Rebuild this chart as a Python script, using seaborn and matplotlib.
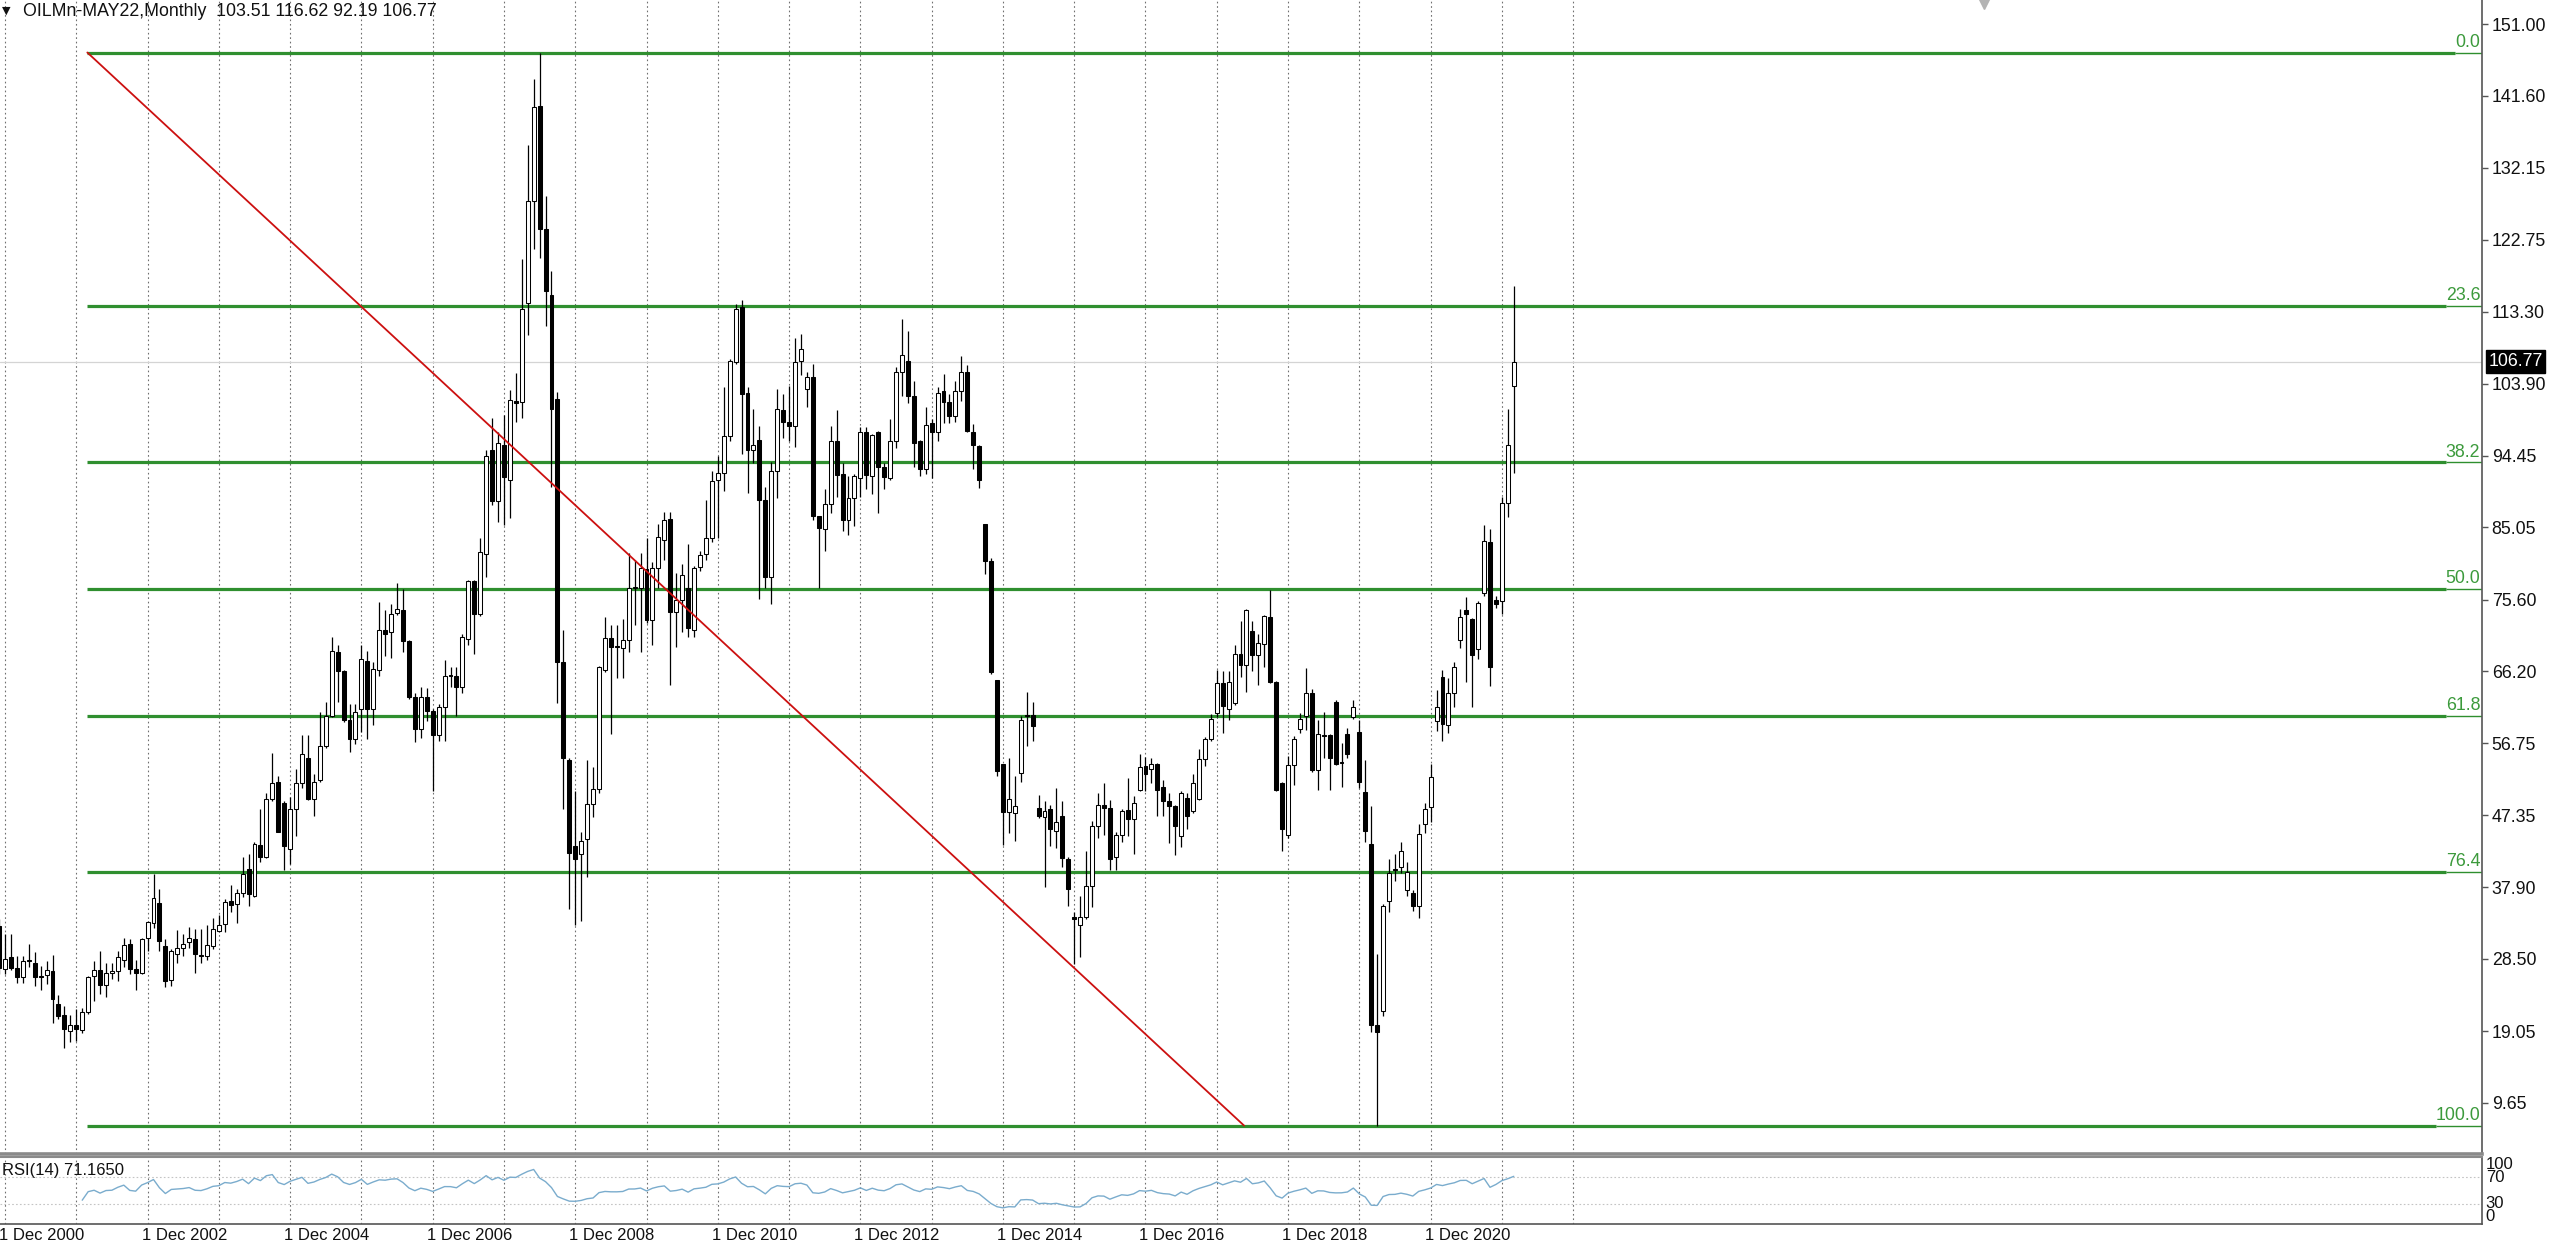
import numpy as np
import pandas as pd
import matplotlib
matplotlib.use("Agg")
import matplotlib.pyplot as plt
import matplotlib.transforms as mtransforms
import seaborn as sns

# ---------------------------------------------------------
# Data (monthly bars, first bar = Nov 2000)
# ---------------------------------------------------------
first_month = "2000-11-01"

opens = [32.8, 27.2, 28.7, 27.3, 26.2, 28.3, 28.0, 26.25, 26.4, 26.9, 22.6, 21.1, 19.1, 19.8,
         19.2, 21.5, 26.3, 27.0, 25.1, 26.6, 26.9, 28.4, 30.4, 27.2, 26.7, 31.3, 33.2, 35.8,
         30.2, 25.7, 29.2, 29.9, 30.7, 31.1, 28.95, 28.9, 30.2, 32.2, 33.1, 36.1, 35.7, 37.2,
         40.3, 36.8, 43.5, 41.9, 49.4, 51.7, 49.0, 42.9, 48.1, 51.6, 54.9, 49.4, 51.9, 56.4,
         60.4, 68.7, 66.2, 59.8, 57.3, 61.2, 67.6, 61.3, 66.3, 71.6, 71.3, 73.8, 74.2, 70.1,
         62.8, 58.6, 62.8, 61.0, 57.9, 61.5, 65.65, 65.6, 64.1, 70.4, 78.0, 73.7, 81.6, 95.2,
         88.5, 95.9, 91.3, 101.6, 101.5, 114.5, 127.8, 140.3, 124.1, 115.5, 101.9, 67.4, 54.6,
         43.3, 42.2, 44.2, 48.8, 50.8, 66.4, 70.6, 69.45, 69.3, 70.3, 77.1, 77.1, 79.6, 72.9,
         79.7, 83.4, 86.1, 73.9, 75.5, 77.1, 71.6, 79.8, 81.5, 83.6, 91.2, 92.2, 97.0, 106.7,
         113.9, 102.7, 95.2, 96.5, 88.6, 78.6, 92.5, 100.4, 98.9, 98.3, 106.8, 103.2, 104.8,
         86.5, 84.8, 88.1, 96.4, 92.1, 86.0, 88.9, 91.5, 97.5, 91.8, 97.5, 93.0, 91.5, 96.4,
         105.4, 106.9, 102.2, 96.4, 92.7, 98.7, 97.6, 102.9, 101.5, 99.6, 102.9, 105.4, 97.6,
         95.7, 85.5, 80.6, 65.0, 54.0, 47.7, 47.6, 52.9, 60.45, 60.5, 48.3, 47.1, 48.1, 45.3,
         47.3, 41.6, 34.0, 32.9, 34.0, 38.1, 45.9, 48.7, 48.3, 41.9, 44.8, 48.0, 46.8, 50.7,
         53.8, 53.4, 54.0, 51.1, 49.2, 48.6, 44.6, 49.6, 47.9, 49.5, 54.7, 57.3, 60.7, 64.7,
         61.3, 62.0, 68.5, 67.0, 71.5, 68.3, 69.8, 73.3, 64.8, 51.6, 44.8, 53.9, 58.6, 60.4,
         63.3, 53.2, 57.85, 57.8, 62.2, 54.3, 58.0, 60.2, 58.3, 50.4, 43.6, 19.9, 21.7, 36.1,
         40.25, 40.5, 37.6, 37.2, 35.5, 46.2, 48.4, 59.7, 65.4, 59.2, 63.3, 70.3, 74.2, 73.0,
         69.1, 76.4, 83.2, 75.6, 75.4, 88.2, 103.51]

highs = [33.7, 31.8, 31.8, 28.9, 28.9, 30.5, 29.4, 27.6, 28.3, 29.0, 23.8, 22.4, 21.1, 21.9,
         22.1, 26.3, 28.2, 29.5, 28.0, 28.0, 29.6, 31.2, 31.1, 28.4, 31.2, 33.5, 39.7, 37.7,
         31.1, 29.8, 32.3, 31.8, 32.7, 32.4, 32.4, 32.9, 33.9, 34.2, 36.4, 38.2, 37.7, 41.8,
         42.3, 43.8, 48.2, 50.3, 55.5, 52.5, 49.2, 49.7, 53.4, 57.8, 57.8, 52.7, 60.8, 62.2,
         70.7, 69.6, 66.4, 61.9, 61.9, 69.6, 68.9, 67.4, 75.3, 74.2, 75.0, 77.8, 77.0, 70.3,
         63.4, 64.1, 64.0, 61.2, 61.9, 67.7, 66.7, 66.7, 71.1, 78.2, 78.2, 83.6, 95.2, 99.4,
         97.6, 99.8, 103.1, 105.3, 120.2, 135.2, 143.8, 147.27, 128.5, 118.6, 102.8, 71.6, 54.8,
         50.5, 45.1, 54.6, 53.7, 66.9, 73.3, 72.2, 72.2, 73.0, 81.7, 80.8, 81.7, 83.7, 80.5,
         85.5, 87.1, 87.1, 79.1, 80.3, 82.9, 80.0, 82.0, 88.6, 92.4, 94.4, 103.4, 107.1, 114.3,
         114.8, 103.4, 100.5, 98.3, 90.4, 93.6, 103.2, 102.5, 103.6, 109.8, 110.4, 105.4, 106.4,
         86.6, 90.1, 98.3, 100.4, 93.5, 91.8, 92.1, 98.2, 98.2, 97.3, 97.7, 93.5, 99.2, 106.0,
         112.3, 110.8, 104.2, 96.5, 100.8, 99.3, 103.4, 105.1, 102.5, 104.2, 107.5, 106.3, 98.6,
         95.8, 85.5, 81.0, 65.0, 54.0, 54.8, 52.5, 60.3, 63.5, 62.2, 50.0, 49.2, 48.7, 50.9,
         49.2, 41.8, 34.6, 36.8, 42.7, 46.6, 50.2, 51.6, 49.3, 45.1, 48.1, 52.2, 49.8, 55.4,
         55.0, 54.8, 54.2, 52.0, 50.3, 48.7, 50.5, 50.3, 52.8, 56.0, 57.6, 60.6, 66.3, 66.2,
         66.2, 69.6, 72.8, 74.4, 72.8, 71.1, 73.6, 76.8, 64.9, 51.7, 55.1, 57.7, 60.7, 66.6,
         63.9, 59.8, 60.9, 58.0, 62.4, 56.8, 58.8, 62.4, 59.8, 54.6, 48.6, 29.1, 35.7, 41.6,
         42.2, 43.8, 41.2, 37.6, 46.2, 48.9, 54.1, 63.7, 66.3, 65.3, 67.4, 74.4, 75.9, 73.2,
         75.4, 85.3, 84.9, 76.0, 89.0, 100.5, 116.62]

lows = [26.5, 26.5, 27.0, 25.4, 25.3, 27.4, 24.9, 24.4, 25.2, 20.1, 20.6, 16.9, 17.6, 17.8,
        18.8, 21.3, 23.0, 23.9, 23.5, 25.9, 25.6, 27.5, 26.5, 24.5, 26.5, 29.5, 32.6, 29.6,
        24.8, 25.0, 28.0, 28.9, 30.0, 26.6, 28.0, 28.4, 29.8, 32.0, 32.0, 34.6, 33.2, 36.6,
        35.4, 36.6, 41.2, 41.7, 49.2, 45.1, 40.1, 40.9, 44.6, 50.9, 49.3, 47.3, 51.7, 56.2,
        60.2, 62.2, 59.5, 55.6, 56.7, 58.2, 57.3, 59.1, 65.6, 68.2, 67.9, 73.6, 68.7, 62.6,
        56.9, 57.5, 59.7, 50.5, 57.1, 57.1, 64.1, 60.4, 63.4, 69.6, 68.5, 73.4, 78.5, 88.0,
        85.8, 85.4, 86.3, 98.8, 99.4, 110.3, 121.5, 120.4, 111.4, 90.4, 62.0, 48.2, 35.0,
        33.0, 33.5, 39.3, 47.1, 50.2, 66.1, 58.0, 65.3, 65.3, 68.7, 72.2, 68.7, 72.5, 69.6,
        77.1, 80.8, 64.4, 69.4, 71.3, 70.7, 70.7, 79.4, 80.8, 83.1, 83.7, 89.8, 96.4, 106.4,
        94.7, 89.6, 93.5, 75.7, 77.1, 75.0, 88.9, 96.7, 96.4, 95.6, 105.0, 100.8, 86.0,
        77.1, 82.0, 86.9, 89.0, 84.6, 84.0, 85.2, 89.0, 90.1, 89.4, 86.9, 90.1, 91.2, 95.5,
        102.2, 101.3, 93.0, 91.8, 92.1, 91.5, 96.4, 98.7, 98.7, 98.8, 101.6, 97.6, 92.7,
        90.2, 79.0, 65.8, 52.5, 43.5, 45.0, 44.0, 51.7, 56.4, 57.1, 47.0, 37.9, 43.3, 43.1,
        40.5, 35.5, 27.9, 28.8, 33.8, 35.3, 44.4, 44.7, 40.2, 40.2, 43.8, 44.6, 42.2, 50.5,
        50.5, 51.6, 47.2, 47.2, 43.7, 42.1, 43.2, 45.5, 47.6, 49.3, 53.8, 57.1, 60.2, 58.1,
        59.8, 61.8, 65.5, 63.5, 66.2, 64.4, 66.8, 64.7, 50.5, 42.7, 44.4, 51.3, 58.1, 58.5,
        53.0, 50.7, 54.9, 50.6, 53.9, 51.0, 54.9, 59.9, 50.9, 43.8, 19.0, 6.67, 21.0, 34.6,
        38.7, 39.8, 36.8, 34.8, 33.9, 45.0, 46.5, 58.4, 57.1, 58.1, 61.5, 69.3, 64.8, 61.5,
        67.8, 76.1, 64.3, 74.5, 73.7, 86.4, 92.19]

closes = [27.3, 28.5, 27.3, 26.2, 28.3, 28.2, 26.1, 26.15, 27.0, 23.2, 21.0, 19.3, 19.8, 19.3,
          21.6, 26.1, 27.0, 25.1, 26.7, 26.9, 28.8, 30.3, 27.2, 26.7, 31.1, 33.3, 36.5, 30.9,
          25.6, 29.5, 30.0, 30.4, 31.3, 29.1, 28.85, 30.3, 32.4, 33.0, 36.0, 35.6, 37.2, 39.7,
          37.0, 43.6, 41.9, 49.4, 51.6, 45.2, 43.3, 48.2, 51.6, 55.3, 49.5, 51.7, 56.4, 60.4,
          68.9, 66.2, 59.8, 57.3, 60.8, 67.8, 61.3, 66.5, 71.6, 71.1, 73.7, 74.4, 70.1, 62.8,
          58.6, 62.8, 61.0, 57.9, 61.5, 65.6, 65.55, 64.1, 70.7, 78.0, 73.7, 81.8, 94.4, 88.5,
          96.1, 91.7, 101.8, 101.4, 113.6, 127.8, 140.1, 124.1, 116.0, 100.6, 67.4, 54.9, 42.4,
          41.6, 44.0, 48.8, 50.8, 66.7, 70.6, 69.4, 69.35, 70.3, 77.1, 77.3, 79.7, 72.9, 79.7,
          83.8, 86.0, 74.0, 75.6, 78.8, 71.9, 79.7, 81.4, 83.6, 91.1, 92.2, 97.0, 106.8, 113.7,
          102.5, 95.2, 95.9, 88.6, 78.5, 92.5, 100.5, 98.9, 98.3, 106.7, 108.4, 104.8, 86.5,
          85.0, 88.1, 96.4, 91.9, 86.0, 88.9, 91.8, 97.5, 91.9, 97.1, 93.0, 91.7, 96.4, 105.4,
          107.7, 102.2, 96.1, 92.7, 98.4, 97.6, 102.7, 101.5, 99.6, 102.9, 105.4, 97.7, 95.9,
          91.3, 80.6, 66.1, 53.1, 47.7, 49.5, 48.5, 59.8, 60.35, 59.0, 47.2, 47.9, 45.5, 46.4,
          41.7, 37.7, 33.8, 34.0, 38.1, 45.9, 48.7, 48.3, 41.6, 44.8, 47.9, 46.8, 48.9, 53.7,
          52.8, 54.0, 50.7, 49.2, 48.6, 45.9, 50.3, 47.2, 51.5, 54.7, 57.3, 60.0, 64.7, 61.6,
          64.8, 68.4, 67.0, 74.2, 68.3, 69.9, 73.4, 64.8, 50.7, 45.5, 53.9, 57.3, 60.0, 63.3,
          53.2, 58.0, 57.75, 54.9, 54.1, 54.2, 55.4, 61.5, 51.7, 45.3, 19.9, 19.0, 35.4, 39.8,
          40.15, 42.7, 39.9, 35.5, 44.9, 48.2, 52.4, 61.5, 59.3, 63.3, 66.7, 73.3, 73.7, 68.3,
          75.1, 83.3, 66.8, 75.0, 88.2, 95.9, 106.77]

price_ticks = [151.00, 141.60, 132.15, 122.75, 113.30, 103.90, 94.45, 85.05,
               75.60, 66.20, 56.75, 47.35, 37.90, 28.50, 19.05, 9.65]
rsi_levels = [70, 30]
rsi_ticks = ["100", "70", "30", "0"]

# Fibonacci retracement object and the red trend line drawn on the chart
fib_high = 147.27
fib_low = 6.67
fib_levels = [0.0, 23.6, 38.2, 50.0, 61.8, 76.4, 100.0]
fib_start_bar = 14.86      # bar position of the left anchor
trend_end_bar = 209.6      # bar position where the red line ends

symbol_title = "OILMn-MAY22,Monthly  103.51 116.62 92.19 106.77"
last_price = 106.77
rsi_period = 14
rsi_title = "RSI(14) 71.1650"

# ---------------------------------------------------------
# Frame + RSI(14), Wilder smoothing as in MT4
# ---------------------------------------------------------
df = pd.DataFrame({
    "date": pd.date_range(first_month, periods=len(opens), freq="MS"),
    "open": opens, "high": highs, "low": lows, "close": closes,
})
df["x"] = np.arange(len(df))

delta = df["close"].diff()
gain = delta.clip(lower=0)
loss = -delta.clip(upper=0)
avg_gain = np.full(len(df), np.nan)
avg_loss = np.full(len(df), np.nan)
avg_gain[rsi_period] = gain[1:rsi_period + 1].mean()
avg_loss[rsi_period] = loss[1:rsi_period + 1].mean()
for i in range(rsi_period + 1, len(df)):
    avg_gain[i] = (avg_gain[i - 1] * (rsi_period - 1) + gain[i]) / rsi_period
    avg_loss[i] = (avg_loss[i - 1] * (rsi_period - 1) + loss[i]) / rsi_period
df["rsi"] = 100 - 100 / (1 + avg_gain / avg_loss)

# yearly grid at every December, labels every second year
grid_dates = pd.date_range("2000-12-01", "2022-12-01", freq="12MS")
start = pd.Timestamp(first_month)
grid_x = [(d.year - start.year) * 12 + (d.month - start.month) for d in grid_dates]
grid_labels = [f"1 Dec {d.year}" if (d.year % 2 == 0 and d <= df["date"].iloc[-1]) else ""
               for d in grid_dates]

# ---------------------------------------------------------
# Figure layout (pixels of the 2560x1251 screenshot)
# ---------------------------------------------------------
sns.set_style("white")
plt.rcParams["font.family"] = ["Liberation Sans", "DejaVu Sans"]
FS = 12.8        # price scale, title, fibo labels
FS_DATE = 12.0   # time scale

W, H = 2560, 1251
fig = plt.figure(figsize=(W / 100, H / 100), dpi=100)
ax = fig.add_axes([0, 1 - 1154 / H, 2482 / W, 1154 / H])
ax_rsi = fig.add_axes([0, 1 - 1224 / H, 2482 / W, 67 / H])

px_per_bar = 5.94
x_left = 1 - 5 / px_per_bar
x_right = 1 + (2482 - 5) / px_per_bar
for a in (ax, ax_rsi):
    a.set_xlim(x_left, x_right)
    a.set_facecolor("white")
    a.set_xticks(grid_x)
    a.grid(axis="x", color="#6f6f6f", linestyle=(0, (1.5, 2.5)), linewidth=0.8)
    a.grid(axis="y", visible=False)
    a.set_axisbelow(True)
    for side in ("left", "top"):
        a.spines[side].set_visible(False)
    a.spines["right"].set_color("#555555")
    a.spines["right"].set_linewidth(1.2)
    a.tick_params(axis="x", length=0)
    a.set_xlabel("")
    a.set_ylabel("")

ax.set_ylim(2.95, 154.15)
ax.spines["bottom"].set_color("#8a8a8a")
ax.spines["bottom"].set_linewidth(2.6)
ax_rsi.spines["top"].set_visible(True)
ax_rsi.spines["top"].set_color("#8a8a8a")
ax_rsi.spines["top"].set_linewidth(1.5)
ax_rsi.spines["bottom"].set_color("#555555")
ax_rsi.spines["bottom"].set_linewidth(1.2)

# ---------------------------------------------------------
# Candles
# ---------------------------------------------------------
bull = df["close"] >= df["open"]
body_lo = np.minimum(df["open"], df["close"])
body_h = np.maximum((df["close"] - df["open"]).abs(), 0.12)
ax.vlines(df["x"], df["low"], df["high"], color="black", linewidth=0.9, zorder=3)
ax.bar(df["x"][bull], body_h[bull], bottom=body_lo[bull], width=0.66,
       color="white", edgecolor="black", linewidth=0.75, zorder=4)
ax.bar(df["x"][~bull], body_h[~bull], bottom=body_lo[~bull], width=0.66,
       color="black", edgecolor="black", linewidth=0.75, zorder=4)

# current price line
ax.axhline(last_price, color="#d4d4d4", linewidth=0.9, zorder=1)

# ---------------------------------------------------------
# Fibonacci levels + trend line
# ---------------------------------------------------------
fib_green = "#2f8f2f"
fig.canvas.draw()
renderer = fig.canvas.get_renderer()
for lvl in fib_levels:
    price = fib_high - (fib_high - fib_low) * lvl / 100
    t = ax.text(0.9993, price + 0.25, f"{lvl:.1f}", transform=ax.get_yaxis_transform(),
                ha="right", va="bottom", color="#3c9a3c", fontsize=FS, zorder=6)
    bb = t.get_window_extent(renderer)
    label_left = ax.transData.inverted().transform((bb.x0, 0))[0]
    ax.hlines(price, fib_start_bar, label_left, color=fib_green, linewidth=2.3, zorder=2)
    ax.hlines(price, label_left, x_right, color=fib_green, linewidth=1.0, zorder=2)

ax.plot([fib_start_bar, trend_end_bar], [fib_high, fib_low], color="#cc1010",
        linewidth=1.3, zorder=5)

# chart shift marker at the top
ax.plot([0.7994], [1.0], marker="v", markersize=13, color="#b4b4b4",
        transform=ax.transAxes, clip_on=True, zorder=6)

# ---------------------------------------------------------
# Price scale
# ---------------------------------------------------------
ax.yaxis.tick_right()
ax.set_yticks(price_ticks)
ax.set_yticklabels([f"{p:.2f}" for p in price_ticks])
ax.tick_params(axis="y", direction="out", length=4, width=1, color="#555555",
               labelsize=FS, labelcolor="#111111", pad=3)
ax.set_xticklabels([])
ax.text(1.0025, last_price, f"{last_price:.2f}", transform=ax.get_yaxis_transform(),
        ha="left", va="center", color="white", fontsize=FS, zorder=7,
        bbox=dict(boxstyle="square,pad=0.15", fc="black", ec="black"))

fig.text(23 / W, 1 - 11 / H, symbol_title, ha="left", va="center",
         fontsize=FS, color="#111111")
fig.text(2 / W, 1 - 11 / H, "\u25bc", ha="left", va="center", fontsize=8,
         color="#111111", family=["DejaVu Sans"])

# ---------------------------------------------------------
# RSI panel
# ---------------------------------------------------------
sns.lineplot(data=df, x="x", y="rsi", ax=ax_rsi, color="#7aaccd", linewidth=1.0)
ax_rsi.set_xlim(x_left, x_right)
ax_rsi.set_ylim(0, 100)
ax_rsi.set_yticks([])
for lvl in rsi_levels:
    ax_rsi.axhline(lvl, color="#c4c4c4", linestyle=(0, (1.5, 2)), linewidth=0.8, zorder=1)
ax_rsi.set_xlabel("")
ax_rsi.set_ylabel("")
ax_rsi.text(0.001, 0.80, rsi_title, transform=ax_rsi.transAxes, ha="left", va="center",
            fontsize=FS_DATE, color="#111111")
for lab, yv, va in zip(rsi_ticks, [100, 70, 30, 0], ["top", "center", "center", "bottom"]):
    ax_rsi.text(1.0015, yv, lab, transform=ax_rsi.get_yaxis_transform(), ha="left",
                va=va, fontsize=FS_DATE, color="#111111", clip_on=False)

ax_rsi.set_xticks(grid_x)
ax_rsi.set_xticklabels(grid_labels, ha="left", fontsize=FS_DATE, color="#111111")
ax_rsi.tick_params(axis="x", length=0, pad=3)
shift = mtransforms.ScaledTranslation(-6 / 100, 0, fig.dpi_scale_trans)
for lab in ax_rsi.get_xticklabels():
    lab.set_transform(lab.get_transform() + shift)

fig.savefig("out.png", dpi=100, facecolor="white")
